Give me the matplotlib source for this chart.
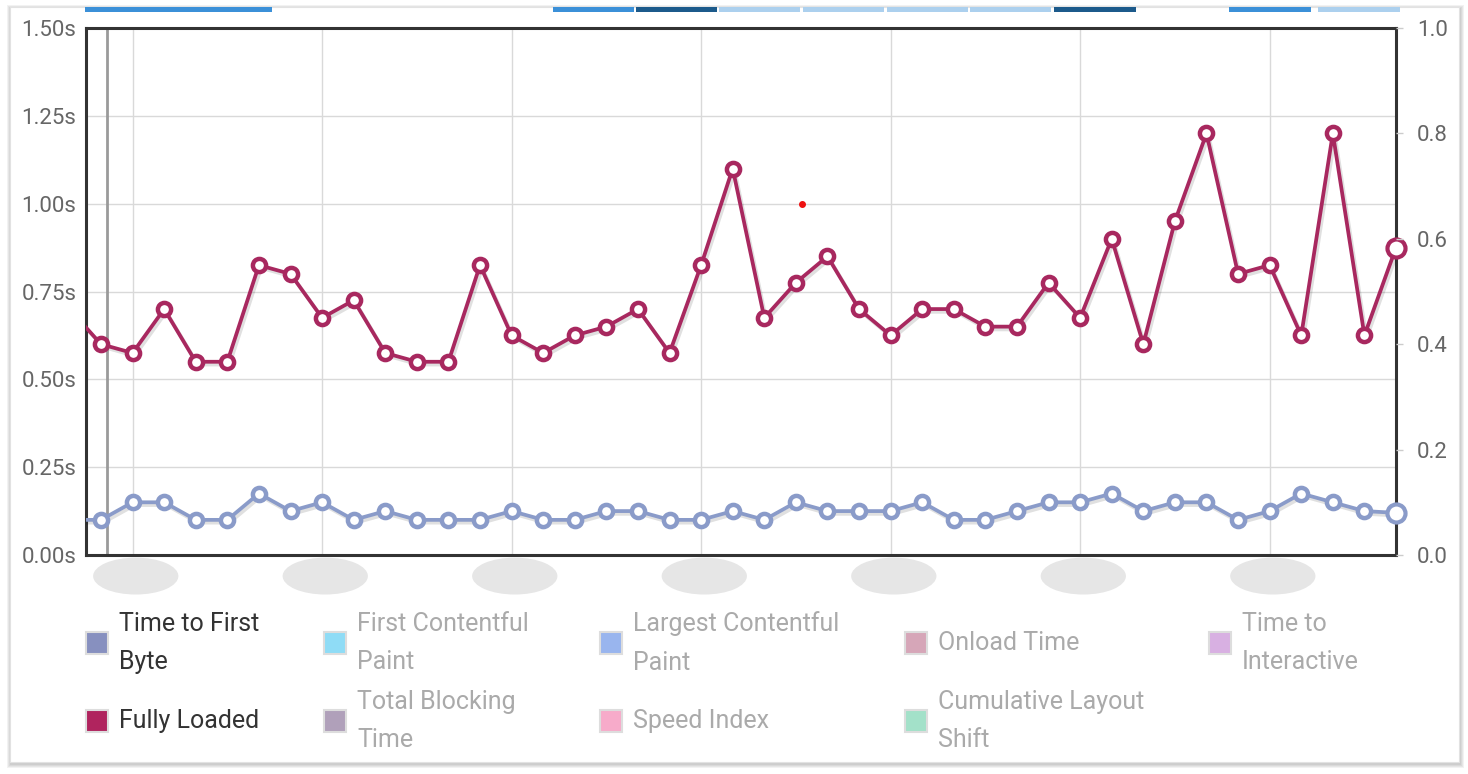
import matplotlib
matplotlib.use('Agg')
import numpy as np
import matplotlib.pyplot as plt
import matplotlib.patheffects as pe
from matplotlib.patches import Rectangle, Ellipse
from matplotlib.transforms import blended_transform_factory

plt.rcParams['font.family'] = ['Roboto', 'DejaVu Sans']

W, H = 1468, 774

# test runs; run -1 sits just left of the visible window
runs = np.arange(-1, 42)
fully_loaded = [0.70,
                0.60, 0.575, 0.70, 0.55, 0.55, 0.825, 0.80, 0.675, 0.725, 0.575,
                0.55, 0.55, 0.825, 0.625, 0.575, 0.625, 0.65, 0.70, 0.575, 0.825,
                1.10, 0.675, 0.775, 0.85, 0.70, 0.625, 0.70, 0.70, 0.65, 0.65,
                0.775, 0.675, 0.90, 0.60, 0.95, 1.20, 0.80, 0.825, 0.625, 1.20,
                0.625, 0.875]
ttfb = [0.10,
        0.10, 0.15, 0.15, 0.10, 0.10, 0.175, 0.125, 0.15, 0.10, 0.125,
        0.10, 0.10, 0.10, 0.125, 0.10, 0.10, 0.125, 0.125, 0.10, 0.10,
        0.125, 0.10, 0.15, 0.125, 0.125, 0.125, 0.15, 0.10, 0.10, 0.125,
        0.15, 0.15, 0.175, 0.125, 0.15, 0.15, 0.10, 0.125, 0.175, 0.15,
        0.125, 0.12]

left_ticks = [0.0, 0.25, 0.5, 0.75, 1.0, 1.25, 1.5]
left_labels = ['0.00s', '0.25s', '0.50s', '0.75s', '1.00s', '1.25s', '1.50s']
right_ticks = [0.0, 0.2, 0.4, 0.6, 0.8, 1.0]
right_labels = ['0.0', '0.2', '0.4', '0.6', '0.8', '1.0']
label_runs = [1, 7, 13, 19, 25, 31, 37]   # x labels are blurred out
hover_run = 0.19
stray_dot = (22.18, 1.0)

legend_labels = [['Time to First\nByte', 'First Contentful\nPaint', 'Largest Contentful\nPaint',
                  'Onload Time', 'Time to\nInteractive'],
                 ['Fully Loaded', 'Total Blocking\nTime', 'Speed Index',
                  'Cumulative Layout\nShift', None]]
legend_colors = [['#8790bf', '#8fdcf6', '#99b5ee', '#d6a6b8', '#d8b0e2'],
                 ['#b0245e', '#b0a0ba', '#f7abca', '#a3e1c9', None]]
legend_active = [[True, False, False, False, False],
                 [True, False, False, False, False]]

fl_color = '#a8285f'
tt_color = '#8a9bc9'

fig = plt.figure(figsize=(W / 100, H / 100), dpi=100)

# card with soft shadow
cx0, cy0, cx1, cy1 = 10, 7, 1459, 762
for k in range(4, 0, -1):
    fig.patches.append(Rectangle(((cx0 + 1 - k) / W, 1 - (cy1 + 2 + k) / H),
                                 (cx1 - cx0 + 2 * k) / W, (cy1 - cy0 + 2 * k) / H,
                                 transform=fig.transFigure, facecolor='black',
                                 edgecolor='none', alpha=0.05, zorder=-3))
fig.patches.append(Rectangle((cx0 / W, 1 - cy1 / H), (cx1 - cx0) / W, (cy1 - cy0) / H,
                             transform=fig.transFigure, facecolor='white',
                             edgecolor='#e2e2e2', lw=0.8, zorder=-2))

# strip of a chart cut off above
strip = [(85, 272, '#3b90d8'), (553, 634, '#3b90d8'), (636, 717, '#1c5a8b'),
         (719, 800, '#acd0ee'), (803, 884, '#acd0ee'), (887, 968, '#acd0ee'),
         (970, 1051, '#acd0ee'), (1054, 1136, '#1c5a8b'), (1229, 1311, '#3b90d8'),
         (1318, 1400, '#acd0ee')]
for x0, x1, c in strip:
    fig.patches.append(Rectangle((x0 / W, 1 - 12 / H), (x1 - x0) / W, 5 / H,
                                 transform=fig.transFigure, facecolor=c, edgecolor='none'))

ax = fig.add_axes([86 / W, 1 - 555 / H, 1310 / W, 527 / H])
ax.set_xlim(-0.475, 41)
ax.set_ylim(0, 1.5)
ax.set_yticks(left_ticks)
ax.set_yticklabels(left_labels)
ax.set_xticks(label_runs)
ax.set_xticklabels([])
ax.grid(True, color='#d9d9d9', lw=1)
ax.set_axisbelow(True)
ax.tick_params(axis='y', length=0, pad=7, labelsize=16, labelcolor='#666666')
ax.tick_params(axis='x', length=0)
for s in ax.spines.values():
    s.set_color('#333333')
    s.set_linewidth(2.2)

ax2 = ax.twinx()
ax2.set_ylim(0, 1)
ax2.set_yticks(right_ticks)
ax2.set_yticklabels(right_labels)
ax2.tick_params(axis='y', length=5, width=1, color='#cccccc', pad=10,
                labelsize=16, labelcolor='#666666')
for s in ax2.spines.values():
    s.set_visible(False)

ax.axvline(hover_run, color='#9a9a9a', lw=2, zorder=1)

shadow = [pe.SimpleLineShadow(offset=(1.5, -2), alpha=0.12), pe.Normal()]
for vals, c in [(ttfb, tt_color), (fully_loaded, fl_color)]:
    ax.plot(runs, vals, color=c, lw=2.7, zorder=3, path_effects=shadow)
    ax.plot(runs[1:-1], vals[1:-1], ls='none', marker='o', ms=9.5, mew=3.2,
            mfc='white', mec=c, zorder=4)
    ax.plot(runs[-1:], vals[-1:], ls='none', marker='o', ms=13, mew=3.0,
            mfc='white', mec=c, zorder=4, clip_on=False)

ax.plot(*stray_dot, 'o', color='#ee1111', ms=4, zorder=5)

# blurred x labels
bt = blended_transform_factory(ax.transData, ax.transAxes)
for r in label_runs:
    ax.add_patch(Ellipse((r + 0.1, -0.04), 2.7, 0.07, transform=bt, facecolor='#e6e6e6',
                         edgecolor='none', clip_on=False))

# legend
col_x = [86, 324, 600, 905, 1209]
row_y = [643, 721]
for i, row in enumerate(legend_labels):
    for j, lab in enumerate(row):
        if lab is None:
            continue
        x, y = col_x[j], row_y[i]
        fig.patches.append(Rectangle((x / W, 1 - (y + 11) / H), 22 / W, 22 / H,
                                     transform=fig.transFigure, facecolor=legend_colors[i][j],
                                     edgecolor='#dddddd', lw=1.5))
        fig.text((x + 33) / W, 1 - y / H, lab, fontsize=18, va='center', ha='left',
                 linespacing=1.75, color='#333333' if legend_active[i][j] else '#aaaaaa')

fig.savefig('out.png', dpi=100)
